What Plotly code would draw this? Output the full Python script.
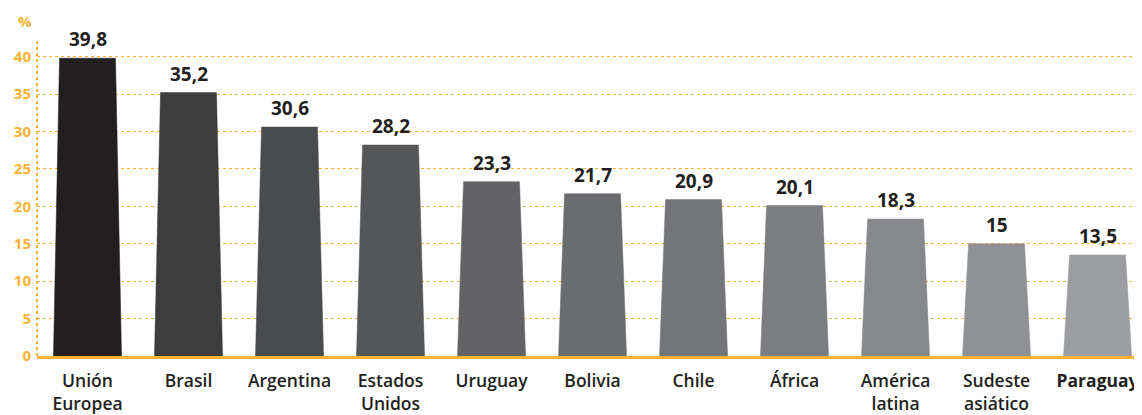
import plotly.graph_objects as go

categories = ["Unión<br>Europea", "Brasil", "Argentina", "Estados<br>Unidos", "Uruguay",
              "Bolivia", "Chile", "África", "América<br>latina", "Sudeste<br>asiático", "<b>Paraguay</b>"]
values = [39.8, 35.2, 30.6, 28.2, 23.3, 21.7, 20.9, 20.1, 18.3, 15, 13.5]
value_labels = ["39,8", "35,2", "30,6", "28,2", "23,3", "21,7", "20,9", "20,1", "18,3", "15", "13,5"]
colors = ["#231f20", "#3d3d3d", "#4a4b4d", "#555658", "#636365", "#6b6c6e",
          "#747578", "#7c7d80", "#87888b", "#909194", "#9c9da0"]
y_ticks = [0, 5, 10, 15, 20, 25, 30, 35, 40]

ORANGE = "#f9b233"
FONT = "Open Sans"

fig = go.Figure()
bottom_half = 0.337
top_half = 0.277
for i, (v, c) in enumerate(zip(values, colors)):
    fig.add_trace(go.Scatter(
        x=[i - bottom_half, i - top_half, i + top_half, i + bottom_half, i - bottom_half],
        y=[0, v, v, 0, 0],
        fill="toself", fillcolor=c, mode="lines",
        line=dict(color=c, width=0.5), hoverinfo="skip", showlegend=False))

for i, (v, lab) in enumerate(zip(values, value_labels)):
    fig.add_annotation(x=i, y=v, text=lab, showarrow=False, yanchor="bottom",
                       yshift=4, xref="x", yref="y",
                       font=dict(family=FONT, size=19, color="#231f20", weight="bold"))

fig.update_layout(
    width=1134, height=407,
    margin=dict(l=29, r=0, t=30, b=59),
    plot_bgcolor="white", paper_bgcolor="white",
    font=dict(family=FONT),
    xaxis=dict(range=[-0.5, 10.44], tickmode="array",
               tickvals=list(range(len(values))), ticktext=categories,
               showgrid=False, zeroline=False, showline=True, linecolor=ORANGE,
               linewidth=3, ticks="", automargin=False, ticklabelstandoff=7,
               tickfont=dict(family=FONT, size=17.5, color="#231f20", weight=600),
               fixedrange=True),
    yaxis=dict(range=[0, 42.5], tickmode="array", tickvals=y_ticks,
               showgrid=True, gridcolor=ORANGE, griddash="dot", gridwidth=1,
               zeroline=False, showline=False, ticks="", automargin=False,
               tickfont=dict(family=FONT, size=15, color=ORANGE, weight="bold"),
               ticklabelstandoff=5),
)

fig.add_shape(type="line", xref="paper", yref="paper", x0=0, x1=0, y0=0, y1=1,
              line=dict(color=ORANGE, width=2, dash="dot"), layer="above")
fig.add_annotation(text="%", xref="paper", yref="paper", x=-0.011, y=1.015,
                   xanchor="center", yanchor="bottom", showarrow=False,
                   font=dict(family=FONT, size=15, color=ORANGE, weight="bold"))

fig.write_html("out.html")
